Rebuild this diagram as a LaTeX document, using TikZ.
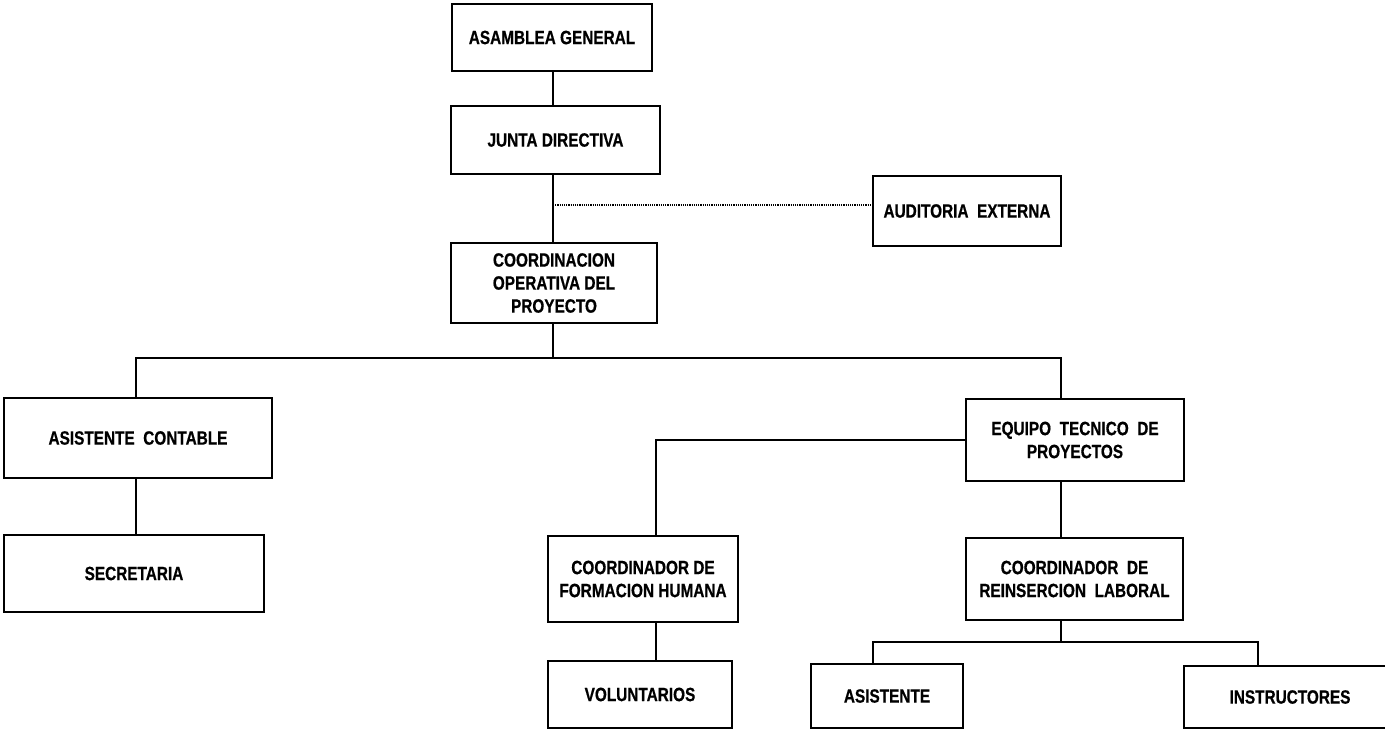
\documentclass[tikz,border=0pt]{standalone}
\usepackage{fontspec}
\setmainfont{Liberation Sans}[FakeStretch=0.8,FakeBold=0.6]
\begin{document}
\begin{tikzpicture}[x=1pt,y=-1pt,
  box/.style={draw,line width=1.5pt,inner sep=0pt,align=center,
    font=\fontsize{19.2}{23}\selectfont\bfseries},
  conn/.style={line width=1.4pt}]
\useasboundingbox (0,0) rectangle (1385,729);
\clip (0,0) rectangle (1385,729);
\node[box,minimum width=200pt,minimum height=67pt] (AG) at (552,37.5) {ASAMBLEA GENERAL};
\node[box,minimum width=209pt,minimum height=68pt] (JD) at (555.5,140) {JUNTA DIRECTIVA};
\node[box,minimum width=188pt,minimum height=70pt] (AE) at (967,211) {AUDITORIA\ \ EXTERNA};
\node[box,minimum width=206pt,minimum height=80pt] (COP) at (554,283) {COORDINACION\\OPERATIVA DEL\\PROYECTO};
\node[box,minimum width=268pt,minimum height=80pt] (AC) at (138,438) {ASISTENTE\ \ CONTABLE};
\node[box,minimum width=260pt,minimum height=77pt] (SEC) at (134,573.5) {SECRETARIA};
\node[box,minimum width=218pt,minimum height=82pt] (ETP) at (1075,440) {EQUIPO\ \ TECNICO\ \ DE\\PROYECTOS};
\node[box,minimum width=190pt,minimum height=86pt] (CFH) at (643,579) {COORDINADOR DE\\FORMACION HUMANA};
\node[box,minimum width=217pt,minimum height=82pt] (CRL) at (1074.5,579) {COORDINADOR\ \ DE\\REINSERCION\ \ LABORAL};
\node[box,minimum width=184pt,minimum height=67pt] (VOL) at (640,694.5) {VOLUNTARIOS};
\node[box,minimum width=152pt,minimum height=64pt] (ASI) at (887,696) {ASISTENTE};
\node[box,minimum width=212pt,minimum height=62pt] (INS) at (1290,697) {INSTRUCTORES};
\coordinate (xs) at (553,0);
\coordinate (xl) at (136,0);
\coordinate (xr) at (1061,0);
\coordinate (xf) at (656,0);
\coordinate (xa) at (873,0);
\coordinate (xi) at (1258,0);
\coordinate (busy) at (0,358);
\coordinate (busy2) at (0,642);
\coordinate (dj) at (553,205);
\draw[conn] (AG.south -| xs) -- (JD.north -| xs);
\draw[conn] (JD.south -| xs) -- (COP.north -| xs);
\draw[line width=1.2pt,densely dotted] (dj) -- (dj -| AE.west);
\draw[conn] (COP.south -| xs) -- (xs |- busy);
\draw[conn] (AC.north -| xl) -- (xl |- busy) -- (xr |- busy) -- (ETP.north -| xr);
\draw[conn] (AC.south -| xl) -- (SEC.north -| xl);
\draw[conn] (ETP.west) -| (CFH.north -| xf);
\draw[conn] (ETP.south -| xr) -- (CRL.north -| xr);
\draw[conn] (CFH.south -| xf) -- (VOL.north -| xf);
\draw[conn] (CRL.south -| xr) -- (xr |- busy2);
\draw[conn] (ASI.north -| xa) |- (busy2 -| xi) -- (INS.north -| xi);
\end{tikzpicture}
\end{document}
